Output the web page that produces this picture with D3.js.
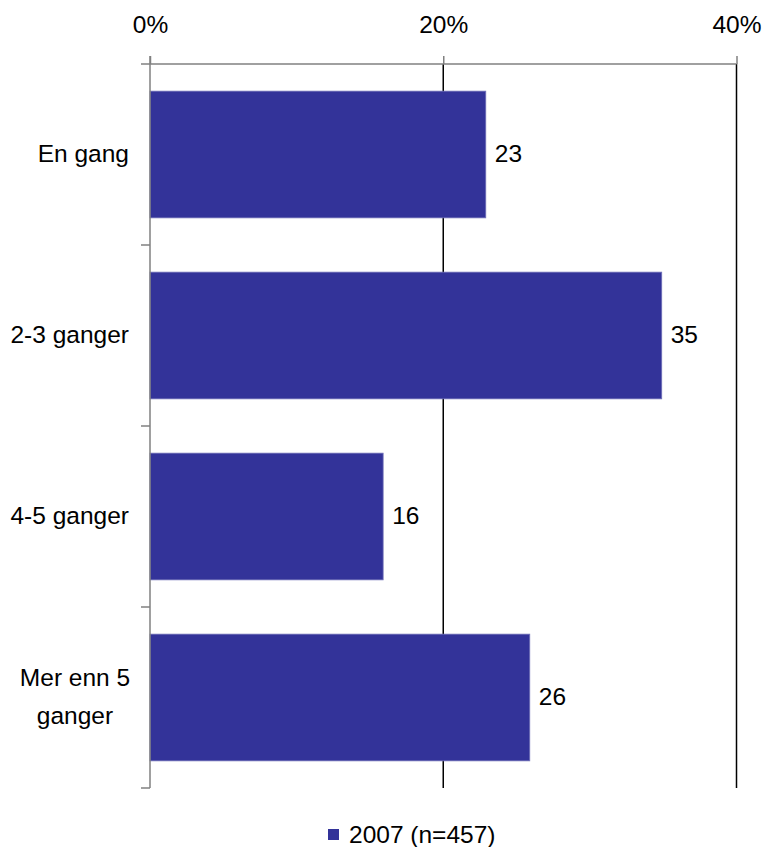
<!DOCTYPE html>
<html><head><meta charset="utf-8">
<script src="https://cdn.jsdelivr.net/npm/d3@7"></script>
<style>body{margin:0;background:#fff}text{font-family:"Liberation Sans",Arial,sans-serif;fill:#000}</style>
</head><body><svg id="c" width="765" height="847"></svg>
<script>
const categories = ["En gang", "2-3 ganger", "4-5 ganger", "Mer enn 5 ganger"];
const catLines = [["En gang"], ["2-3 ganger"], ["4-5 ganger"], ["Mer enn 5", "ganger"]];
const values = [22.9, 34.9, 15.9, 25.9];
const valueLabels = ["23", "35", "16", "26"];
const ticks = [0, 20, 40];
const tickLabels = ["0%", "20%", "40%"];
const seriesName = "2007 (n=457)";

const svg = d3.select("#c");
const L = 150, R = 736.5, T = 64, B = 788;
const x = d3.scaleLinear().domain([0, 40]).range([L, R]);
const y = d3.scaleBand().domain(categories).range([T, B]).paddingInner(0.3).paddingOuter(0.15);
const fs = 24.5;

// gridlines
svg.append("g").selectAll("line").data(ticks.slice(1)).join("line")
  .attr("x1", d => x(d)).attr("x2", d => x(d)).attr("y1", T).attr("y2", B)
  .attr("stroke", "#000").attr("stroke-width", 1.5);

// bars
svg.append("g").selectAll("rect").data(values).join("rect")
  .attr("x", x(0)).attr("y", (d, i) => y(categories[i]))
  .attr("width", d => x(d) - x(0)).attr("height", y.bandwidth())
  .attr("fill", "#333399").attr("stroke", "#7070b8").attr("stroke-width", 0.8);

// top axis
const topAxis = d3.axisTop(x).tickValues(ticks).tickSize(8).tickFormat((d, i) => tickLabels[i]);
const gt = svg.append("g").attr("transform", `translate(0,${T})`).call(topAxis);
gt.select(".domain").remove();
gt.selectAll(".tick line").attr("stroke", "#808080").attr("stroke-width", 1.5);
gt.selectAll(".tick text").attr("font-size", fs).attr("y", -31).attr("dy", 0).style("font-family", '"Liberation Sans",Arial,sans-serif').attr("fill", "#000");
svg.append("line").attr("x1", L - 9).attr("x2", R).attr("y1", T).attr("y2", T).attr("stroke", "#808080").attr("stroke-width", 1.5);

// left axis
svg.append("line").attr("x1", L).attr("x2", L).attr("y1", T - 8).attr("y2", B).attr("stroke", "#808080").attr("stroke-width", 1.5);
const bounds = [T + (B - T) / 4, T + (B - T) / 2, T + 3 * (B - T) / 4, B];
svg.append("g").selectAll("line").data(bounds).join("line")
  .attr("x1", L - 9).attr("x2", L).attr("y1", d => d).attr("y2", d => d)
  .attr("stroke", "#808080").attr("stroke-width", 1.5);

// category labels
const cg = svg.append("g");
categories.forEach((c, i) => {
  const cy = y(c) + y.bandwidth() / 2;
  const lines = catLines[i];
  const lh = 38;
  lines.forEach((ln, j) => {
    cg.append("text").attr("y", cy + (j - (lines.length - 1) / 2) * lh)
      .attr("dy", "0.3em").attr("text-anchor", lines.length > 1 ? "middle" : "end")
      .attr("font-size", fs).text(ln)
      .attr("x", lines.length > 1 ? 75 : 129);
  });
});

// value labels
svg.append("g").selectAll("text").data(values).join("text")
  .attr("x", d => x(d) + 9).attr("y", (d, i) => y(categories[i]) + y.bandwidth() / 2)
  .attr("dy", "0.3em").attr("font-size", fs).text((d, i) => valueLabels[i]);

// legend
svg.append("rect").attr("x", 328).attr("y", 829).attr("width", 11).attr("height", 11).attr("fill", "#333399");
svg.append("text").attr("x", 349).attr("y", 843).attr("font-size", fs).text(seriesName);
</script></body></html>
